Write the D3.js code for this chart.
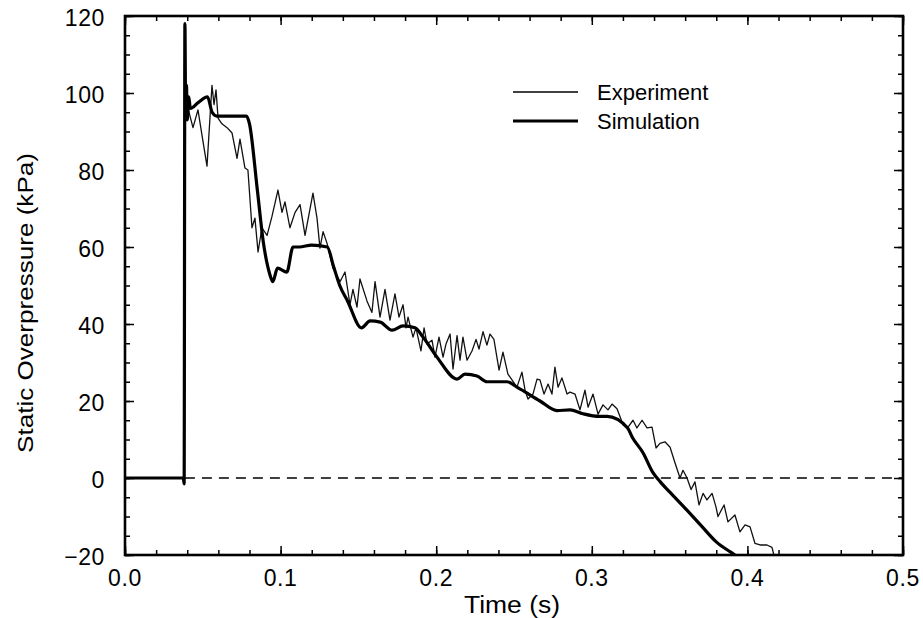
<!DOCTYPE html>
<html><head><meta charset="utf-8">
<script src="https://cdn.jsdelivr.net/npm/d3@7"></script>
<style>body{margin:0;background:#fff}svg{display:block}</style>
</head><body>
<svg id="c" width="923" height="618"></svg>
<script>
// ---- data ----
const xTicks = [0.0, 0.1, 0.2, 0.3, 0.4, 0.5];
const xTickLabels = ["0.0", "0.1", "0.2", "0.3", "0.4", "0.5"];
const yTicks = [-20, 0, 20, 40, 60, 80, 100, 120];
const yTickLabels = ["\u221220", "0", "20", "40", "60", "80", "100", "120"];
const seriesNames = ["Experiment", "Simulation"];

const simTime = [0, 0.0375, 0.038, 0.0385, 0.039, 0.0395, 0.040, 0.041, 0.042, 0.047, 0.053, 0.056, 0.059, 0.070, 0.078, 0.080, 0.085, 0.089, 0.093, 0.095, 0.098, 0.104, 0.108, 0.112, 0.120, 0.130, 0.134, 0.138, 0.143, 0.152, 0.1575, 0.164, 0.1716, 0.1787, 0.1864, 0.1915, 0.2005, 0.2134, 0.2185, 0.2262, 0.2326, 0.2455, 0.2519, 0.2667, 0.2776, 0.286, 0.2943, 0.305, 0.3098, 0.323, 0.326, 0.333, 0.339, 0.344, 0.350, 0.361, 0.371, 0.380, 0.389, 0.392];
const simValue = [0, 0, -1.5, 118, 94, 102, 93, 99, 96, 97.5, 99, 95, 94, 94, 94, 92, 75, 61, 53, 51, 54.5, 53.5, 60, 60, 60.5, 60, 55, 50, 46, 39, 40.8, 40.5, 38.4, 39.5, 39, 36.6, 31.4, 25.7, 27, 26.5, 25, 25, 23.6, 20, 17.5, 17.7, 16.7, 16, 16, 13, 10.6, 6.5, 1.6, -1, -3.6, -8.3, -12.7, -16.6, -19.2, -20];

const expTime = [0, 0.0375, 0.038, 0.0385, 0.039, 0.0405, 0.0437, 0.0469, 0.0495, 0.0527, 0.0546, 0.0559, 0.0572, 0.0585, 0.0598, 0.0623, 0.0656, 0.0688, 0.0720, 0.0739, 0.0771, 0.0790, 0.0816, 0.0835, 0.0855, 0.0880, 0.0913, 0.0945, 0.0983, 0.1009, 0.1028, 0.1060, 0.1093, 0.1125, 0.1157, 0.1208, 0.1234, 0.1253, 0.1273, 0.1298, 0.1337, 0.1382, 0.1395, 0.1414, 0.1446, 0.1465, 0.1491, 0.1510, 0.1555, 0.1587, 0.1607, 0.1639, 0.1671, 0.1703, 0.1735, 0.1761, 0.1787, 0.1806, 0.1819, 0.1851, 0.1870, 0.1902, 0.1922, 0.1941, 0.1973, 0.1992, 0.2018, 0.2044, 0.2063, 0.2089, 0.2108, 0.2134, 0.2153, 0.2172, 0.2198, 0.2230, 0.2256, 0.2275, 0.2301, 0.2326, 0.2346, 0.2371, 0.2404, 0.2429, 0.2461, 0.2487, 0.2519, 0.2551, 0.2571, 0.2590, 0.2622, 0.2648, 0.2667, 0.2693, 0.2719, 0.2744, 0.2763, 0.2783, 0.2808, 0.2841, 0.2860, 0.2892, 0.2924, 0.2956, 0.2976, 0.3008, 0.3040, 0.3072, 0.3104, 0.3130, 0.3162, 0.3181, 0.3201, 0.3233, 0.3265, 0.3290, 0.3323, 0.3355, 0.3387, 0.3413, 0.3438, 0.3470, 0.3503, 0.3535, 0.3567, 0.3586, 0.3612, 0.3638, 0.3663, 0.3689, 0.3715, 0.3740, 0.3773, 0.3798, 0.3811, 0.3850, 0.3875, 0.3920, 0.3952, 0.3985, 0.4017, 0.4049, 0.4081, 0.4126, 0.4158, 0.417];
const expValue = [0, 0, -1.5, 117, 96, 96, 91, 95.6, 89, 81, 93.5, 102, 97, 100.8, 93.5, 92, 91, 89.6, 83, 88, 80.5, 80, 65, 67.5, 58.7, 65, 63, 68, 74.8, 69, 71.7, 65, 69, 71, 63, 74, 67.5, 59.7, 64, 61, 54.5, 51, 52, 53.5, 45, 49, 44.4, 51.7, 46, 43, 51, 41.8, 49, 41, 47.8, 41.8, 45, 39, 41.8, 36.6, 39, 33, 39, 34.8, 35.8, 31.4, 36.6, 31.4, 34.8, 37.4, 28.3, 37, 30.6, 36.6, 30.6, 33, 36, 33.5, 38, 34.5, 37.4, 36, 28, 32.7, 27, 25.5, 23.6, 27.5, 22.8, 20.5, 21.8, 25.7, 25.5, 21.8, 24.4, 21.8, 28.8, 23.6, 26, 21.8, 22.3, 21.8, 17.7, 22.8, 18.4, 21.8, 16.6, 19, 17.7, 19.2, 18, 16, 13.8, 13.2, 15, 13, 15, 13, 13.2, 7.8, 9, 9.4, 8, 3.9, 0, 2, 0, -3, -1, -7, -4, -5.7, -4, -7.5, -10, -7, -11.4, -9.6, -14, -12.2, -12.7, -17, -17.4, -17.4, -18, -20];

const dashStart = 0.0385;

// ---- layout ----
const svg = d3.select("#c");
const m = {left: 125, right: 20, top: 16, bottom: 63};
const W = 923, H = 618;
const iw = W - m.left - m.right, ih = H - m.top - m.bottom;
const x = d3.scaleLinear().domain([0, 0.5]).range([0, iw]);
const y = d3.scaleLinear().domain([-20, 120]).range([ih, 0]);
const g = svg.append("g").attr("transform", `translate(${m.left},${m.top})`);
const font = "'Liberation Sans', Arial, Helvetica, sans-serif";

g.append("clipPath").attr("id", "clip").append("rect").attr("width", iw).attr("height", ih);

// dashed zero line
g.append("line")
  .attr("x1", x(dashStart)).attr("x2", iw)
  .attr("y1", y(0)).attr("y2", y(0))
  .attr("stroke", "#000").attr("stroke-width", 1.6).attr("stroke-dasharray", "10,7");

const line = d3.line().x(d => x(d[0])).y(d => y(d[1]));
const smooth = d3.line().x(d => x(d[0])).y(d => y(d[1])).curve(d3.curveMonotoneX);
const expData = expTime.map((t, i) => [t, expValue[i]]);
const simData = simTime.map((t, i) => [t, simValue[i]]);

g.append("path").datum(expData).attr("d", line).attr("clip-path", "url(#clip)")
  .attr("fill", "none").attr("stroke", "#111").attr("stroke-width", 1.3).attr("stroke-linejoin", "round");
g.append("path").datum(simData).attr("d", smooth).attr("clip-path", "url(#clip)")
  .attr("fill", "none").attr("stroke", "#000").attr("stroke-width", 3.2).attr("stroke-linejoin", "round");

// axes (ticks inward on all four sides)
const minorX = d3.range(0, 0.5001, 0.02);
const minorY = d3.range(-20, 120.001, 5);
function mk(axisFn, scale, vals, size) {
  return axisFn(scale).tickValues(vals).tickSize(size).tickFormat("");
}
const axB = g.append("g").attr("transform", `translate(0,${ih})`);
axB.call(mk(d3.axisTop, x, minorX, 5));
axB.call(g2 => g2.append("g").call(mk(d3.axisTop, x, xTicks, 9)));
const axT = g.append("g");
axT.call(mk(d3.axisBottom, x, minorX, 5));
axT.call(g2 => g2.append("g").call(mk(d3.axisBottom, x, xTicks, 9)));
const axL = g.append("g");
axL.call(mk(d3.axisRight, y, minorY, 5));
axL.call(g2 => g2.append("g").call(mk(d3.axisRight, y, yTicks, 9)));
const axR = g.append("g").attr("transform", `translate(${iw},0)`);
axR.call(mk(d3.axisLeft, y, minorY, 5));
axR.call(g2 => g2.append("g").call(mk(d3.axisLeft, y, yTicks, 9)));
g.selectAll(".domain").remove();
g.selectAll(".tick line").attr("stroke", "#000").attr("stroke-width", 1.5);

// frame
g.append("rect").attr("width", iw).attr("height", ih)
  .attr("fill", "none").attr("stroke", "#000").attr("stroke-width", 2.6);

// tick labels
g.selectAll(".xl").data(xTicks).join("text")
  .attr("x", d => x(d)).attr("y", ih + 31)
  .attr("text-anchor", "middle").attr("font-family", font).attr("font-size", 23)
  .attr("letter-spacing", 0.6)
  .text((d, i) => xTickLabels[i]);
g.selectAll(".yl").data(yTicks).join("text")
  .attr("x", -20).attr("y", d => y(d) + 10)
  .attr("text-anchor", "end").attr("font-family", font).attr("font-size", 23)
  .attr("letter-spacing", 0.6)
  .text((d, i) => yTickLabels[i]);

// axis titles
svg.append("text").attr("x", 512).attr("y", 613)
  .attr("text-anchor", "middle").attr("font-family", font).attr("font-size", 23)
  .attr("textLength", 96).attr("lengthAdjust", "spacingAndGlyphs")
  .text("Time (s)");
svg.append("text")
  .attr("transform", "translate(33,303) rotate(-90)")
  .attr("text-anchor", "middle").attr("font-family", "'Liberation Sans Narrow', 'Arial Narrow', " + font)
  .attr("font-size", 22).attr("textLength", 300).attr("lengthAdjust", "spacingAndGlyphs")
  .text("Static Overpressure (kPa)");

// legend
const leg = svg.append("g");
const legY = [92, 121];
const legW = [1.3, 3.2];
seriesNames.forEach((name, i) => {
  leg.append("line").attr("x1", 513).attr("x2", 578).attr("y1", legY[i]).attr("y2", legY[i])
    .attr("stroke", "#000").attr("stroke-width", legW[i]);
  leg.append("text").attr("x", 597).attr("y", legY[i] + 8)
    .attr("font-family", font).attr("font-size", 22).text(name);
});
</script>
</body></html>
